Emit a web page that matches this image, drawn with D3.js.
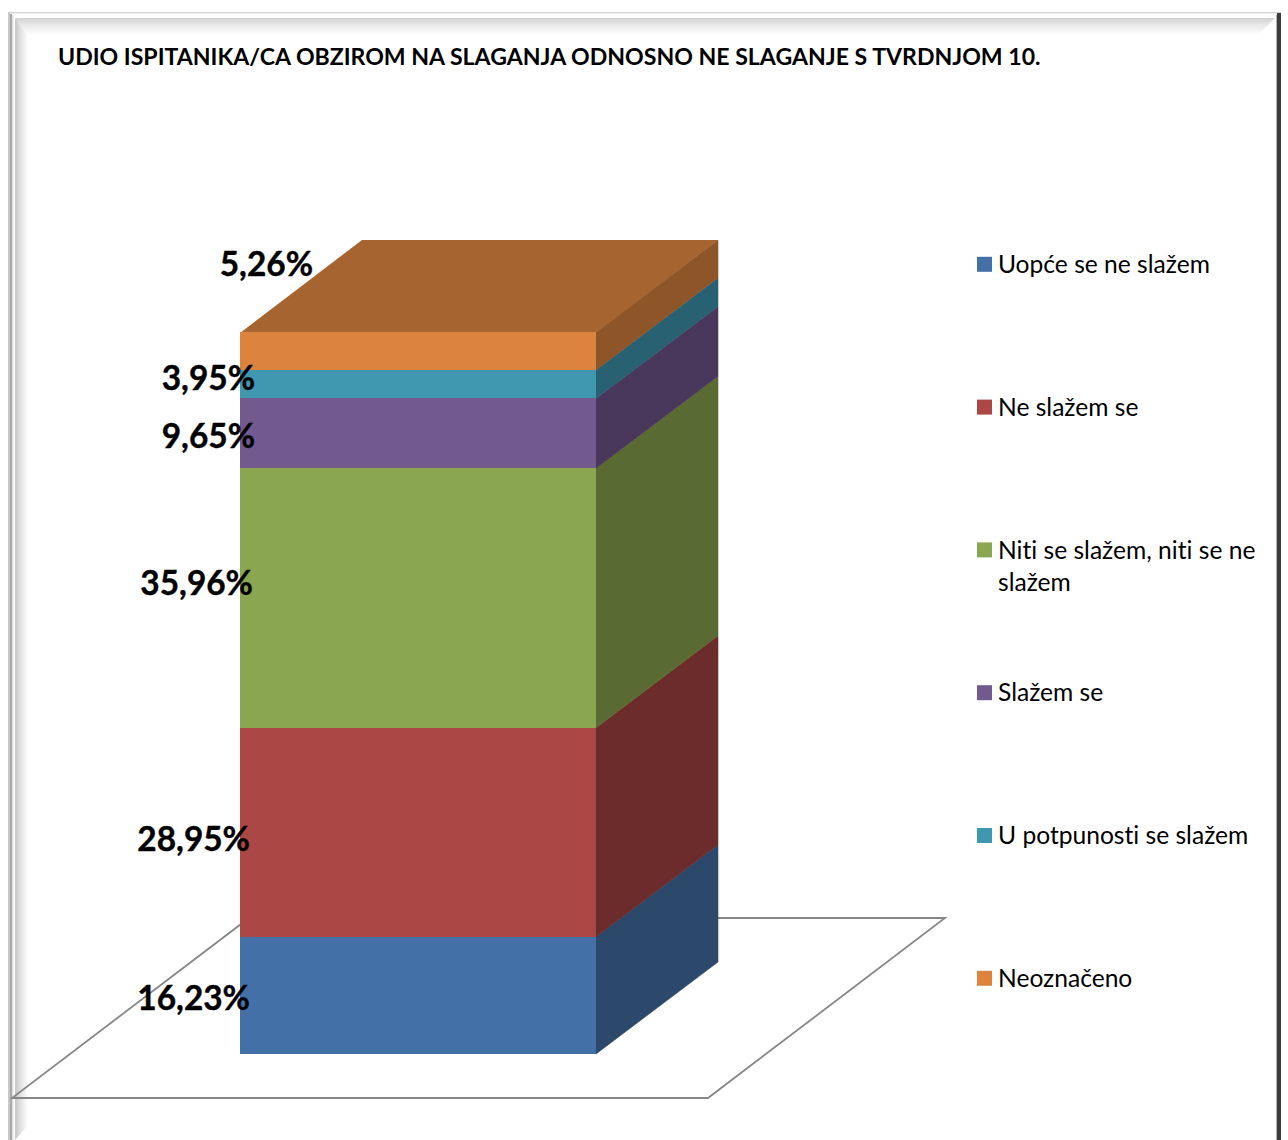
<!DOCTYPE html>
<html>
<head>
<meta charset="utf-8">
<script src="https://cdn.jsdelivr.net/npm/d3@7/dist/d3.min.js"></script>
<style>
html,body{margin:0;padding:0;background:#fff;overflow:hidden}
text{font-family:Lato,"Open Sans",sans-serif;fill:#000;font-variant-ligatures:none}
</style>
</head>
<body>
<svg id="chart" width="1288" height="1140"></svg>
<script>
const chartTitle = "UDIO ISPITANIKA/CA OBZIROM NA SLAGANJA ODNOSNO NE SLAGANJE S TVRDNJOM 10.";
const categories = ["Tvrdnja 10"];
const seriesNames = ["Uopće se ne slažem","Ne slažem se","Niti se slažem, niti se ne slažem","Slažem se","U potpunosti se slažem","Neoznačeno"];
const seriesValues = [16.23,28.95,35.96,9.65,3.95,5.26];
const seriesLabels = ["16,23%","28,95%","35,96%","9,65%","3,95%","5,26%"];
const frontColors = ["#4470a8","#ab4744","#8ba650","#725a8f","#3f98b0","#dc843e"];
const sideColors  = ["#2c496c","#6c2c2b","#5a6a33","#49385c","#276172","#8e5529"];
const topColor = "#a66530";

const svg = d3.select("#chart");
const W = 1288, H = 1140;

// ---- frame ----
const defs = svg.append("defs");
function grad(id,x1,y1,x2,y2,stops){
  const g = defs.append("linearGradient").attr("id",id).attr("x1",x1).attr("y1",y1).attr("x2",x2).attr("y2",y2);
  stops.forEach(s=>g.append("stop").attr("offset",s[0]).attr("stop-color",s[1]));
}
grad("bevelTop",0,0,0,1,[[0,"#d0d0d0"],[0.35,"#e6e6e6"],[1,"#ffffff"]]);
grad("bevelLeft",0,0,1,0,[[0,"#c4c4c4"],[0.4,"#e0e0e0"],[1,"#ffffff"]]);
const frame = svg.append("g");
frame.append("rect").attr("x",8).attr("y",12).attr("width",1274).attr("height",H-12).attr("fill","#fff");
frame.append("polygon").attr("points","15,18 1275,18 1258,35 28,35").attr("fill","url(#bevelTop)");
frame.append("polygon").attr("points","15,18 28,35 28,1125 15,1140").attr("fill","url(#bevelLeft)");
frame.append("rect").attr("x",8).attr("y",12).attr("width",1273).attr("height",1.5).attr("fill","#d6d6d6");
frame.append("rect").attr("x",8).attr("y",12).attr("width",2).attr("height",H-12).attr("fill","#c8c8c8");
frame.append("rect").attr("x",10).attr("y",14).attr("width",2).attr("height",H-14).attr("fill","#a8a8a8");
frame.append("rect").attr("x",12).attr("y",15).attr("width",1.5).attr("height",H-15).attr("fill","#e0e0e0");
frame.append("rect").attr("x",1277).attr("y",13).attr("width",4).attr("height",H-13).attr("fill","#3c3c3c");
frame.append("rect").attr("x",1276).attr("y",15).attr("width",1).attr("height",H-15).attr("fill","#b0b0b0");

// ---- scales ----
const x = d3.scaleBand().domain(categories).range([240,596]).padding(0);
const y = d3.scaleLinear().domain([0,100]).range([1054,332]);
const depthX = 122, depthY = 92;

// ---- floor ----
const xL = x(categories[0]), xR = xL + x.bandwidth();
const floorY = 1098, floorBackY = floorY - 180;
svg.append("polygon")
  .attr("points",[[12,floorY],[708,floorY],[945,floorBackY],[249,floorBackY]].map(p=>p.join(",")).join(" "))
  .attr("fill","none").attr("stroke","#868686").attr("stroke-width",1.8);

// ---- stack ----
const stacked = d3.stack().keys(d3.range(seriesValues.length))([seriesValues.reduce((o,v,i)=>(o[i]=v,o),{})]);
const bar = svg.append("g");
stacked.forEach((s,i)=>{
  const y0 = y(s[0][0]), y1 = y(s[0][1]);
  bar.append("polygon")
    .attr("points",[[xR,y0],[xR+depthX,y0-depthY],[xR+depthX,y1-depthY],[xR,y1]].map(p=>p.join(",")).join(" "))
    .attr("fill",sideColors[i]).attr("stroke",sideColors[i]).attr("stroke-width",0.6);
});
bar.append("polygon")
  .attr("points",[[xL,y(100)+1],[xL+depthX,y(100)-depthY],[xR+depthX,y(100)-depthY],[xR,y(100)+1]].map(p=>p.join(",")).join(" "))
  .attr("fill",topColor);
stacked.forEach((s,i)=>{
  const y0 = y(s[0][0]), y1 = y(s[0][1]);
  bar.append("rect").attr("x",xL).attr("y",y1).attr("width",x.bandwidth()).attr("height",y0-y1)
    .attr("fill",frontColors[i]).attr("shape-rendering","crispEdges");
});

// ---- data labels ----
const labelRight = [250,250,253,255,255,313];
const labelBaseline = [1010,851,595,448,390,276];
svg.append("g").selectAll("text").data(seriesLabels).join("text")
  .attr("x",(d,i)=>labelRight[i]).attr("y",(d,i)=>labelBaseline[i])
  .attr("text-anchor","end").attr("font-size",33.4).attr("font-weight",700)
  .attr("stroke","#000").attr("stroke-width",0.4).text(d=>d);

// ---- title ----
svg.append("text").attr("x",58).attr("y",65).attr("font-size",23.1).attr("font-weight",700).text(chartTitle);

// ---- legend ----
const legendY = d3.scalePoint().domain(seriesNames).range([264.3,978.3]);
const lg = svg.append("g").selectAll("g").data(seriesNames).join("g")
  .attr("transform",d=>`translate(977,${legendY(d)})`);
lg.append("rect").attr("y",-7.5).attr("width",15).attr("height",15).attr("fill",(d,i)=>frontColors[i]);
const legendLines = ["Uopće se ne slažem","Ne slažem se","Niti se slažem, niti se ne|slažem","Slažem se","U potpunosti se slažem","Neoznačeno"];
lg.append("text").attr("font-size",24.6).each(function(d,i){
  legendLines[i].split("|").forEach((t,k)=>{
    d3.select(this).append("tspan").attr("x",21).attr("y",8.7+k*32).text(t);
  });
});
</script>
</body>
</html>
